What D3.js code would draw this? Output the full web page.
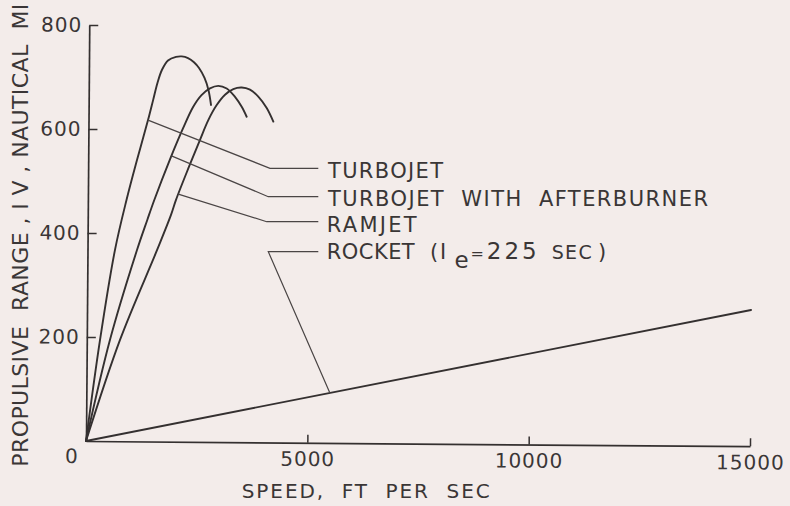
<!DOCTYPE html>
<html><head><meta charset="utf-8">
<script src="https://cdn.jsdelivr.net/npm/d3@7"></script>
<style>
html,body{margin:0;padding:0;background:#f3ecea;}
svg{display:block;}
text{font-family:"DejaVu Sans",sans-serif;fill:#3a3636;}
</style></head><body>
<svg id="chart" width="790" height="506"></svg>
<script>
// ---------- data ----------
const xTicks = [5000, 10000, 15000];
const yTicks = [200, 400, 600, 800];
const turbojetSpeed = [0, 298, 621, 872, 1102, 1344, 1457, 1552, 1651, 1785, 1965, 2094, 2236, 2372, 2487, 2613, 2704, 2765];
const turbojetRange = [0, 194, 368, 464, 541, 618, 657, 690, 715, 733, 740, 741, 738, 730, 719, 700, 677, 648];
const afterburnerSpeed = [0, 524, 1118, 1345, 1502, 1843, 2138, 2360, 2548, 2738, 2926, 3116, 3305, 3458, 3572];
const afterburnerRange = [0, 195, 368, 426, 465, 542, 603, 644, 667, 680, 685, 680, 664, 645, 626];
const ramjetSpeed = [0, 750, 1570, 1880, 1990, 2278, 2522, 2706, 2893, 3079, 3265, 3455, 3642, 3831, 4023, 4175];
const ramjetRange = [0, 195, 368, 436, 465, 529, 581, 619, 648, 668, 679, 682, 678, 665, 643, 617];
const rocketSpeed = [0, 15000];
const rocketRange = [0, 262];
const seriesNames = ["TURBOJET", "TURBOJET  WITH  AFTERBURNER", "RAMJET", "ROCKET"];
const anchorSpeed = [1344, 1880, 2040, 5501];
const xTitle = "SPEED,  FT  PER  SEC";
const yTitle = "PROPULSIVE  RANGE , I V , NAUTICAL  MI";

// ---------- layout ----------
const svg = d3.select("#chart");
const ink = "#343030";
const x = d3.scaleLinear().domain([0, 15000]).range([86, 750]);
const y = d3.scaleLinear().domain([0, 800]).range([441, 25]);
const ROT = 0.45, ox = x(0), oy = y(0);
const th = ROT * Math.PI / 180;
function rot(px, py) {
  const dx = px - ox, dy = py - oy;
  return [ox + dx * Math.cos(th) - dy * Math.sin(th), oy + dx * Math.sin(th) + dy * Math.cos(th)];
}

const plot = svg.append("g").attr("transform", `rotate(${ROT},${ox},${oy})`);

// x axis
const gx = plot.append("g").attr("transform", `translate(0,${oy})`)
  .call(d3.axisBottom(x).tickValues(xTicks).tickSize(-8).tickSizeOuter(0).tickPadding(9).tickFormat(d3.format("d")));
// y axis
const gy = plot.append("g").attr("transform", `translate(${ox},0)`)
  .call(d3.axisLeft(y).tickValues(yTicks).tickSize(-9).tickSizeOuter(0).tickPadding(7).tickFormat(d3.format("d")));
[gx, gy].forEach(g => {
  g.select(".domain").attr("stroke", ink).attr("stroke-width", 1.7);
  g.selectAll(".tick line").attr("stroke", ink).attr("stroke-width", 1.5);
  g.selectAll(".tick text").attr("font-size", 20).attr("letter-spacing", 1)
    .attr("font-family", "DejaVu Sans").attr("fill", "#3a3636");
});
// shared zero label
plot.append("text").attr("x", ox - 14.5).attr("y", oy + 8).attr("dy", "0.71em")
  .attr("text-anchor", "middle").attr("font-size", 20).text("0");

// curves
const line = d3.line().x(d => x(d[0])).y(d => y(d[1])).curve(d3.curveCatmullRom.alpha(0.5));
const series = [
  [turbojetSpeed, turbojetRange],
  [afterburnerSpeed, afterburnerRange],
  [ramjetSpeed, ramjetRange],
  [rocketSpeed, rocketRange]
];
series.forEach(([s, v]) => {
  plot.append("path").datum(s.map((d, i) => [d, v[i]]))
    .attr("d", line).attr("fill", "none").attr("stroke", ink).attr("stroke-width", 1.9)
    .attr("stroke-linejoin", "round").attr("stroke-linecap", "round");
});

// ---------- annotations (screen coords) ----------
const bendX = [270, 268.3, 266.7, 268.3];
const leaderY = [168.3, 196.7, 221.7, 251.7];
const endX = 318.3;
const ann = svg.append("g");
series.forEach(([s, v], i) => {
  const val = d3.scaleLinear().domain(s).range(v)(anchorSpeed[i]);
  const a = rot(x(anchorSpeed[i]), y(val));
  ann.append("path")
    .attr("d", d3.line()([a, [bendX[i], leaderY[i]], [endX, leaderY[i]]]))
    .attr("fill", "none").attr("stroke", "#4a4545").attr("stroke-width", 1.2);
});
const labX = [328, 328, 326.7];
const labBase = [178, 206, 232];
const labLen = [115, 380, 90];
[0, 1, 2].forEach(i => {
  ann.append("text").attr("x", labX[i]).attr("y", labBase[i]).attr("font-size", 21)
    .attr("textLength", labLen[i]).attr("lengthAdjust", "spacing")
    .style("white-space", "pre").text(seriesNames[i]);
});
// rocket label pieces
ann.append("text").attr("x", 326.7).attr("y", 259).attr("font-size", 21)
  .attr("textLength", 88).attr("lengthAdjust", "spacing").text(seriesNames[3]);
ann.append("text").attr("x", 430).attr("y", 259).attr("font-size", 21).text("(");
ann.append("text").attr("x", 440).attr("y", 259).attr("font-size", 21).text("I");
ann.append("text").attr("x", 454.5).attr("y", 268).attr("font-size", 23).text("e");
ann.append("text").attr("x", 470.5).attr("y", 259).attr("font-size", 16).text("=");
ann.append("text").attr("x", 486.7).attr("y", 259).attr("font-size", 23)
  .attr("textLength", 50).attr("lengthAdjust", "spacing").text("225");
ann.append("text").attr("x", 551.7).attr("y", 259).attr("font-size", 19)
  .attr("textLength", 40).attr("lengthAdjust", "spacing").text("SEC");
ann.append("text").attr("x", 598).attr("y", 259).attr("font-size", 21).text(")");

// axis titles
svg.append("text").attr("x", 241.7).attr("y", 498).attr("font-size", 20)
  .attr("textLength", 248).attr("lengthAdjust", "spacing").style("white-space", "pre").text(xTitle);
svg.append("text").attr("transform", "translate(28.3,466.7) rotate(-90)").attr("font-size", 22)
  .attr("textLength", 463).attr("lengthAdjust", "spacing").style("white-space", "pre").text(yTitle);
</script>
</body></html>
